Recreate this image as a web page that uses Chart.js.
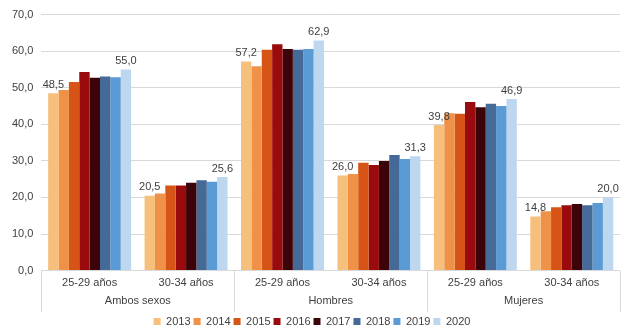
<!DOCTYPE html>
<html>
<head>
<meta charset="utf-8">
<script src="https://cdn.jsdelivr.net/npm/chart.js@4"></script>
<style>
  html, body { margin: 0; padding: 0; background: #fff; }
  #wrap { width: 640px; height: 330px; }
</style>
</head>
<body>
<div id="wrap"><canvas id="tasaChart"></canvas></div>
<script>
// Categorías: franja de edad dentro de cada sexo
const edades = ['25-29 años', '30-34 años', '25-29 años', '30-34 años', '25-29 años', '30-34 años'];
const sexos = ['Ambos sexos', 'Hombres', 'Mujeres'];
const anios = ['2013', '2014', '2015', '2016', '2017', '2018', '2019', '2020'];

// Valores por año (orden: Ambos 25-29, Ambos 30-34, Hombres 25-29, Hombres 30-34, Mujeres 25-29, Mujeres 30-34)
const v2013 = [48.5, 20.5, 57.2, 26.0, 39.8, 14.8];
const v2014 = [49.4, 21.1, 55.9, 26.4, 43.0, 16.2];
const v2015 = [51.6, 23.3, 60.4, 29.5, 42.9, 17.3];
const v2016 = [54.3, 23.3, 61.9, 28.9, 46.1, 17.9];
const v2017 = [52.7, 24.0, 60.6, 30.0, 44.7, 18.2];
const v2018 = [53.1, 24.7, 60.4, 31.6, 45.6, 17.9];
const v2019 = [52.9, 24.3, 60.6, 30.5, 45.0, 18.5];
const v2020 = [55.0, 25.6, 62.9, 31.3, 46.9, 20.0];

const series = [v2013, v2014, v2015, v2016, v2017, v2018, v2019, v2020];
const colores = ['#F6BF7B', '#EF9146', '#D65416', '#990B0D', '#3C0309', '#456A97', '#5B9BD5', '#BDD7EE'];

const TXT = '#404040';
const FONT = "'Liberation Sans', Arial, sans-serif";

Chart.defaults.font.family = FONT;
Chart.defaults.font.size = 11;
Chart.defaults.color = TXT;

const fmt = v => v.toFixed(1).replace('.', ',');

// Etiquetas de valor sólo en el primer y último año
const etiquetasValor = {
  id: 'etiquetasValor',
  afterDatasetsDraw(chart) {
    const ctx = chart.ctx;
    ctx.save();
    ctx.font = '11px ' + FONT;
    ctx.fillStyle = TXT;
    ctx.textAlign = 'center';
    ctx.textBaseline = 'bottom';
    [0, series.length - 1].forEach(di => {
      const meta = chart.getDatasetMeta(di);
      meta.data.forEach((bar, i) => {
        ctx.fillText(fmt(series[di][i]), bar.x, bar.y - 3);
      });
    });
    ctx.restore();
  }
};

// Líneas verticales que separan los grupos por sexo
const separadores = {
  id: 'separadores',
  afterDraw(chart) {
    const x = chart.scales.x;
    const area = chart.chartArea;
    const ctx = chart.ctx;
    const paso = x.getPixelForValue(1) - x.getPixelForValue(0);
    ctx.save();
    ctx.strokeStyle = '#D9D9D9';
    ctx.lineWidth = 1;
    for (let g = 0; g <= sexos.length; g++) {
      const px = Math.round(x.getPixelForValue(g * 2) - paso / 2) + 0.5;
      ctx.beginPath();
      ctx.moveTo(px, area.bottom);
      ctx.lineTo(px, area.bottom + 41);
      ctx.stroke();
    }
    ctx.restore();
  }
};

new Chart(document.getElementById('tasaChart'), {
  type: 'bar',
  data: {
    labels: edades,
    datasets: anios.map((a, i) => ({
      label: a,
      data: series[i],
      backgroundColor: colores[i],
      borderWidth: 0,
      barPercentage: 1,
      categoryPercentage: 0.86
    }))
  },
  options: {
    responsive: true,
    maintainAspectRatio: false,
    animation: false,
    layout: { padding: { top: 6, right: 20, left: 4, bottom: -7 } },
    plugins: {
      legend: {
        position: 'bottom',
        labels: {
          boxWidth: 7,
          boxHeight: 7,
          padding: 3,
          color: TXT,
          font: { size: 11 }
        }
      },
      tooltip: { enabled: false }
    },
    scales: {
      x: {
        grid: { display: false, drawTicks: false },
        border: { display: false },
        ticks: { color: TXT, padding: 6, maxRotation: 0, autoSkip: false },
        afterFit: s => { s.height -= 6; }
      },
      x2: {
        type: 'category',
        labels: sexos,
        position: 'bottom',
        grid: { display: false, drawTicks: false },
        border: { display: false },
        ticks: { color: TXT, padding: 5 }
      },
      y: {
        min: 0,
        max: 70,
        grid: { color: '#D9D9D9', drawTicks: false },
        border: { display: false },
        ticks: {
          stepSize: 10,
          padding: 8,
          color: TXT,
          callback: v => fmt(v)
        }
      }
    }
  },
  plugins: [etiquetasValor, separadores]
});
</script>
</body>
</html>
